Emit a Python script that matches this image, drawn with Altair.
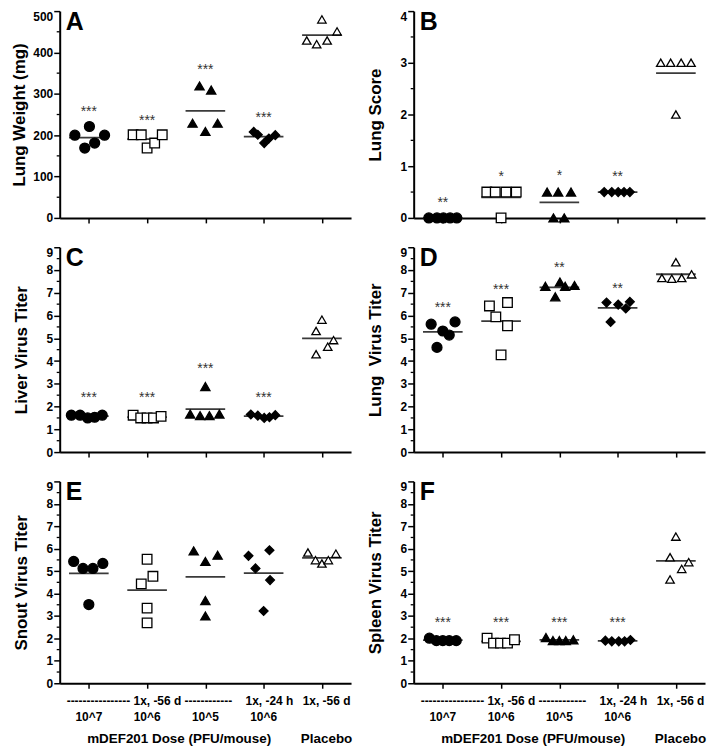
import altair as alt
import pandas as pd

FONT = "Liberation Sans"

groups = [1, 2, 3, 4, 5]
shape_range = ["circle", "square", "triangle-up", "diamond", "triangle-up"]
fill_range = ["black", "white", "black", "black", "white"]
size_range = [100, 72, 85, 110, 72]

letters = ["A", "B", "C", "D", "E", "F"]
y_titles = ["Lung Weight (mg)", "Lung Score", "Liver Virus Titer",
            "Lung \u00a0Virus Titer", "Snout Virus Titer", "Spleen Virus Titer"]
y_max = [500, 4, 9, 9, 9, 9]
y_major = [[0, 100, 200, 300, 400, 500], [0, 1, 2, 3, 4]] + [list(range(0, 10))] * 4
y_minor = [[50, 150, 250, 350, 450], [0.5, 1.5, 2.5, 3.5]] + [[k + 0.5 for k in range(9)]] * 4

# ---- values (per group: 10^7, 10^6, 10^5, 10^6 -24h, Placebo) ----
a_vals = [[200, 221, 200, 169, 181], [201, 201, 169, 181, 201], [319, 309, 229, 209, 229],
          [208, 201, 181, 192, 200], [480, 451, 429, 420, 429]]
a_offs = [[-0.24, 0.01, 0.27, -0.07, 0.1], [-0.24, -0.1, 0.0, 0.13, 0.26], [-0.1, 0.1, -0.22, 0, 0.21],
          [-0.17, -0.1, 0.01, 0.09, 0.2], [0, 0.26, -0.26, -0.09, 0.09]]
a_stars = ["***", "***", "***", "***"]
a_star_y = [257, 235, 357, 241]

b_vals = [[0, 0, 0, 0, 0], [0.5, 0.5, 0.5, 0.5, 0], [0.5, 0.5, 0.5, 0, 0],
          [0.5, 0.5, 0.5, 0.5, 0.5], [3, 3, 3, 3, 2]]
b_offs = [[-0.24, -0.1, 0.01, 0.125, 0.24], [-0.245, -0.1, 0.085, 0.26, 0], [-0.21, -0.02, 0.2, -0.1, 0.085],
          [-0.23, -0.1, 0.01, 0.11, 0.21], [-0.26, -0.09, 0.09, 0.26, 0]]
b_stars = ["**", "*", "*", "**"]
b_star_y = [0.29, 0.79, 0.81, 0.79]

c_vals = [[1.62, 1.62, 1.5, 1.53, 1.62], [1.62, 1.5, 1.5, 1.5, 1.57], [1.67, 1.6, 1.6, 1.67, 2.88],
          [1.65, 1.6, 1.5, 1.53, 1.62], [5.82, 5.32, 4.92, 4.63, 4.3]]
c_offs = [[-0.3, -0.15, -0.02, 0.1, 0.23], [-0.24, -0.11, 0, 0.11, 0.24], [-0.26, -0.09, 0.07, 0.24, 0],
          [-0.22, -0.1, 0.01, 0.1, 0.2], [0, -0.1, 0.2, 0.1, -0.1]]
c_stars = ["***", "***", "***", "***"]
c_star_y = [2.37, 2.37, 3.65, 2.37]

d_vals = [[5.62, 5.32, 5.14, 5.72, 4.6], [6.42, 5.94, 6.57, 5.55, 4.27], [7.28, 7.47, 7.28, 7.32, 6.82],
          [6.57, 6.48, 6.31, 6.6, 5.72], [8.34, 7.65, 7.62, 7.65, 7.81]]
d_offs = [[-0.2, 0, 0.11, 0.21, -0.1], [-0.2, -0.09, 0.11, 0.11, 0], [-0.24, 0.01, 0.1, 0.26, -0.07],
          [-0.19, 0.01, 0.14, 0.21, -0.12], [0, -0.24, -0.07, 0.1, 0.27]]
d_stars = ["***", "***", "**", "**"]
d_star_y = [6.35, 7.14, 8.1, 7.18]

e_vals = [[5.43, 5.12, 5.12, 5.34, 3.51], [5.53, 4.77, 4.43, 3.35, 2.69], [5.9, 5.43, 5.71, 3.69, 3.0],
          [5.68, 5.12, 5.93, 4.6, 3.22], [5.83, 5.49, 5.34, 5.49, 5.78]]
e_offs = [[-0.26, -0.1, 0.07, 0.24, 0], [0, 0.1, -0.1, 0, 0], [-0.2, 0, 0.21, 0, 0],
          [-0.26, -0.14, 0.1, 0.11, 0], [-0.24, -0.11, 0, 0.11, 0.24]]
e_stars = []
e_star_y = []

f_vals = [[2.01, 1.9, 1.9, 1.9, 1.9], [2.01, 1.79, 1.79, 1.79, 1.94], [2.04, 1.9, 1.9, 1.9, 1.94],
          [1.9, 1.87, 1.87, 1.87, 1.93], [6.54, 5.62, 5.4, 5.1, 4.63]]
f_offs = [[-0.23, -0.11, 0, 0.11, 0.23], [-0.24, -0.13, -0.01, 0.11, 0.23], [-0.23, -0.11, 0, 0.11, 0.24],
          [-0.21, -0.1, 0.02, 0.12, 0.22], [0, -0.1, 0.22, 0.1, -0.1]]
f_stars = ["***", "***", "***", "***"]
f_star_y = [2.7, 2.7, 2.7, 2.7]

# bottom category labels
row1_text = ["---------------- 1x, -56 d ------------", "1x, -24 h", "1x, -56 d"]
row1_x = [2.04, 4.1, 5.08]
row2_text = ["10^7", "10^6", "10^5", "10^6"]
row2_x = [1, 2, 3, 4]
row3_text = ["mDEF201 Dose (PFU/mouse)", "Placebo"]
row3_x = [2.55, 5.08]

all_vals = [a_vals, b_vals, c_vals, d_vals, e_vals, f_vals]
all_offs = [a_offs, b_offs, c_offs, d_offs, e_offs, f_offs]
all_stars = [a_stars, b_stars, c_stars, d_stars, e_stars, f_stars]
all_star_y = [a_star_y, b_star_y, c_star_y, d_star_y, e_star_y, f_star_y]

W = 293
heights = [208, 208, 206, 206, 203, 203]
title_pad = [4, 16, 16, 16, 16, 16]


def panel(i):
    h = heights[i]
    rows = []
    for g, vs, os_ in zip(groups, all_vals[i], all_offs[i]):
        for v, o in zip(vs, os_):
            rows.append({"grp": g, "val": v, "off": o})
    df = pd.DataFrame(rows)
    xsc = alt.Scale(domain=[0.5, 5.5], nice=False, zero=False)
    ysc = alt.Scale(domain=[0, y_max[i]], nice=False, zero=True)
    xaxis = alt.Axis(values=groups, labels=False, title=None, ticks=True, tickSize=5, grid=False)
    yaxis = alt.Axis(values=y_major[i], title=y_titles[i], titlePadding=title_pad[i],
                     grid=False, tickSize=6,
                     labelOffset={"condition": {"test": f"datum.value == {y_max[i]}", "value": 5},
                                  "value": 0})

    means = (alt.Chart(df)
             .transform_aggregate(m="mean(val)", groupby=["grp"])
             .transform_calculate(x1="datum.grp - 0.34", x2="datum.grp + 0.34")
             .mark_rule(color="#3a3a3a", strokeWidth=1.8)
             .encode(x=alt.X("x1:Q", scale=xsc, axis=xaxis), x2="x2:Q",
                     y=alt.Y("m:Q", scale=ysc, axis=yaxis)))

    points = (alt.Chart(df)
              .transform_calculate(xpos="datum.grp + datum.off")
              .mark_point(stroke="black", strokeWidth=1.3, opacity=1, fillOpacity=1)
              .encode(
                  x=alt.X("xpos:Q", scale=xsc, axis=xaxis),
                  y=alt.Y("val:Q", scale=ysc, axis=yaxis),
                  shape=alt.Shape("grp:N", scale=alt.Scale(domain=groups, range=shape_range), legend=None),
                  fill=alt.Fill("grp:N", scale=alt.Scale(domain=groups, range=fill_range), legend=None),
                  size=alt.Size("grp:N", scale=alt.Scale(domain=groups, range=size_range), legend=None),
              ))

    minor = (alt.Chart(pd.DataFrame({"v": y_minor[i]}))
             .mark_rule(color="black", strokeWidth=1.3)
             .encode(y=alt.Y("v:Q", scale=ysc, axis=yaxis), x=alt.value(-3), x2=alt.value(0)))

    letter = (alt.Chart(pd.DataFrame({"t": [letters[i]]}))
              .mark_text(font=FONT, fontSize=25, fontWeight="bold", align="left",
                         baseline="alphabetic", color="black")
              .encode(text="t:N", x=alt.value(6), y=alt.value(19)))

    layers = [means, points, minor, letter]

    if all_stars[i]:
        sdf = pd.DataFrame({"grp": groups[:len(all_stars[i])], "s": all_stars[i], "y": all_star_y[i]})
        stars = (alt.Chart(sdf)
                 .mark_text(font=FONT, fontSize=14, color="#333333", baseline="middle")
                 .encode(x=alt.X("grp:Q", scale=xsc, axis=xaxis),
                         y=alt.Y("y:Q", scale=ysc, axis=yaxis), text="s:N"))
        layers.append(stars)

    if i >= 4:
        for txt, xs, dy, fs in [(row1_text, row1_x, 18, 12), (row2_text, row2_x, 34, 12),
                                (row3_text, row3_x, 56, 13.5)]:
            ldf = pd.DataFrame({"t": txt, "x": xs})
            layers.append(
                alt.Chart(ldf)
                .mark_text(font=FONT, fontSize=fs, fontWeight="bold", color="black", baseline="middle")
                .encode(x=alt.X("x:Q", scale=xsc, axis=xaxis), y=alt.value(h + dy), text="t:N"))

    return alt.layer(*layers).properties(width=W, height=h)


panels = [panel(i) for i in range(6)]

chart = (alt.concat(*panels, columns=2, spacing={"row": 29.5, "column": 63}, bounds="flush",
                    padding={"left": 2, "top": 0, "right": 0, "bottom": 0})
         .properties(background="white")
         .configure(font=FONT)
         .configure_view(stroke=None)
         .configure_axis(domainColor="black", domainWidth=2, tickColor="black", tickWidth=1.5,
                         labelFont=FONT, labelFontSize=12, labelFontWeight="bold", labelColor="black",
                         labelPadding=1, titleFont=FONT, titleFontSize=17, titleFontWeight="bold",
                         titleColor="black"))

chart.save("out.html", embed_options={"renderer": "svg", "actions": False})
